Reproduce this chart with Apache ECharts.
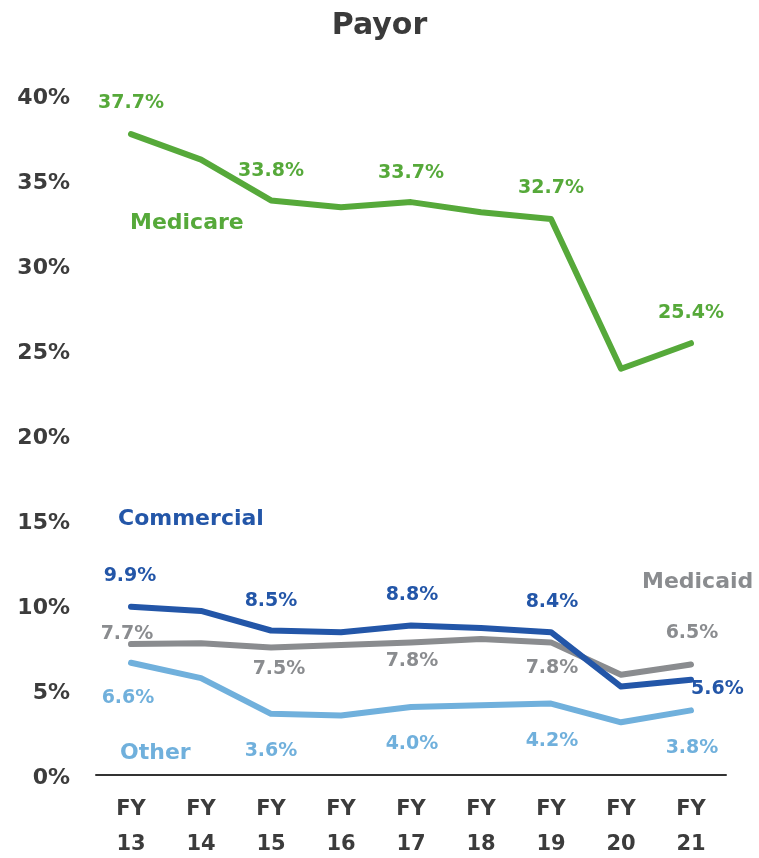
<!DOCTYPE html>
<html><head><meta charset="utf-8">
<script src="https://cdn.jsdelivr.net/npm/echarts@6/dist/echarts.min.js"></script>
<style>html,body{margin:0;padding:0;background:#fff}#c{width:759px;height:858px}</style>
</head><body><div id="c"></div>
<script>
const categories = ['FY\n13','FY\n14','FY\n15','FY\n16','FY\n17','FY\n18','FY\n19','FY\n20','FY\n21'];
const medicare   = [37.7, 36.2, 33.8, 33.4, 33.7, 33.1, 32.7, 23.9, 25.4];
const commercial = [9.9, 9.65, 8.5, 8.4, 8.8, 8.65, 8.4, 5.2, 5.6];
const medicaid   = [7.7, 7.75, 7.5, 7.65, 7.8, 8.0, 7.8, 5.9, 6.5];
const other      = [6.6, 5.7, 3.6, 3.5, 4.0, 4.1, 4.2, 3.1, 3.8];
const yTicks = [0, 5, 10, 15, 20, 25, 30, 35, 40];

const FONT = '"DejaVu Sans", sans-serif';
const C = {med:'#56a93a', com:'#2356a8', mcd:'#8a8c8f', oth:'#70b0dc'};

// label placements per point: [position, offsetX, offsetY] or null
const medicareLbl   = [['top',0,-14],null,['top',0,-12],null,['top',0,-12],null,['top',0,-14],null,['top',0,-13]];
const commercialLbl = [['top',-1,-13],null,['top',0,-12],null,['top',1,-13],null,['top',1,-13],null,['right',-8,9]];
const medicaidLbl   = [['top',-4,7],null,['bottom',8,4],null,['bottom',1,1],null,['bottom',1,8],null,['top',1,-14]];
const otherLbl      = [['bottom',-3,18],null,['bottom',0,20],null,['bottom',1,20],null,['bottom',1,20],null,['bottom',1,20]];

function build(vals, lbls, color) {
  return vals.map((v, i) => {
    const l = lbls[i];
    if (!l) return {value: v, label: {show: false}};
    return {value: v, label: {show: true, position: l[0], offset: [l[1], l[2]], distance: 8,
      color: color, fontFamily: FONT, fontWeight: 'bold', fontSize: 19,
      formatter: p => p.value.toFixed(1) + '%'}};
  });
}
function series(name, vals, lbls, color, z) {
  return {name, type: 'line', data: build(vals, lbls, color), symbol: 'circle', symbolSize: 0,
    showSymbol: true, z,
    lineStyle: {color, width: 6, cap: 'round', join: 'round'}, itemStyle: {color}};
}

const chart = echarts.init(document.getElementById('c'));
chart.setOption({
  animation: false,
  title: {text: 'Payor', left: 'center', top: 6,
    textStyle: {fontFamily: FONT, fontWeight: 'bold', fontSize: 30, color: '#3a3a3a'}},
  grid: {left: 96, right: 33, top: 95, bottom: 83, containLabel: false, outerBoundsMode: 'none'},
  xAxis: {type: 'category', data: categories, boundaryGap: true,
    axisLine: {lineStyle: {color: '#333', width: 2}}, axisTick: {show: false},
    axisLabel: {color: '#3c3c3c', fontFamily: FONT, fontWeight: 'bold', fontSize: 21, lineHeight: 35, margin: 17}},
  yAxis: {type: 'value', min: 0, max: 40, interval: 5,
    axisLine: {show: false}, axisTick: {show: false}, splitLine: {show: false},
    axisLabel: {color: '#3c3c3c', fontFamily: FONT, fontWeight: 'bold', fontSize: 22, margin: 26,
      customValues: yTicks, formatter: v => '{t|' + v + '%}',
      rich: {t: {color: '#3c3c3c', fontFamily: FONT, fontWeight: 'bold', fontSize: 22, padding: [7, 0, 0, 0]}}}},
  series: [
    series('Other', other, otherLbl, C.oth, 1),
    series('Medicaid', medicaid, medicaidLbl, C.mcd, 2),
    series('Commercial', commercial, commercialLbl, C.com, 3),
    series('Medicare', medicare, medicareLbl, C.med, 4)
  ],
  graphic: [
    {type: 'text', left: 130, top: 212, style: {text: 'Medicare', fill: C.med, font: 'bold 22px ' + FONT}},
    {type: 'text', left: 118, top: 508, style: {text: 'Commercial', fill: C.com, font: 'bold 22px ' + FONT}},
    {type: 'text', left: 642, top: 571, style: {text: 'Medicaid', fill: C.mcd, font: 'bold 22px ' + FONT}},
    {type: 'text', left: 120, top: 742, style: {text: 'Other', fill: C.oth, font: 'bold 22px ' + FONT}}
  ]
});
</script></body></html>
